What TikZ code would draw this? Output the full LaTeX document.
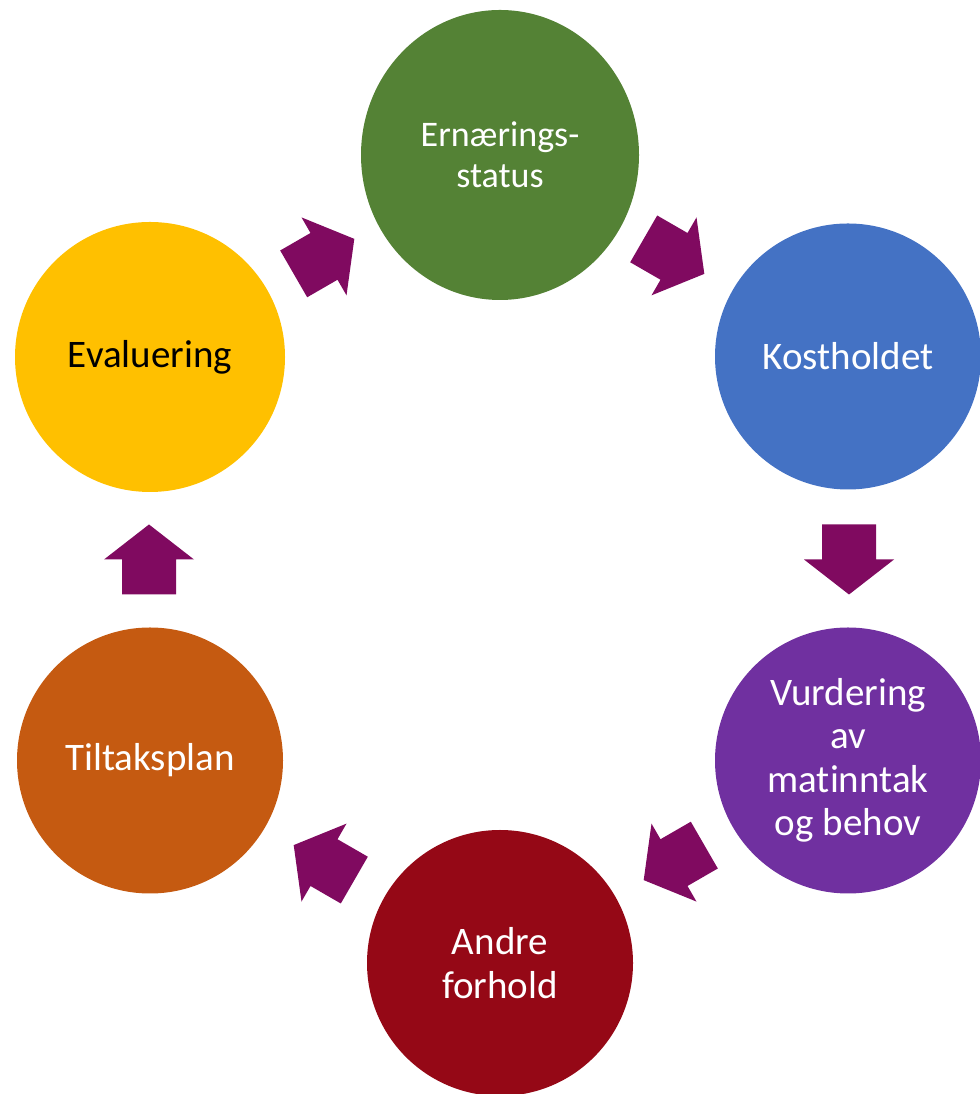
\documentclass[tikz,border=0pt]{standalone}
\usepackage{fontspec}
\setmainfont{Carlito}[Ligatures=NoCommon]
\usetikzlibrary{shapes.geometric}
\definecolor{cgreen}{HTML}{548235}
\definecolor{cblue}{HTML}{4472C4}
\definecolor{cpurple}{HTML}{7030A0}
\definecolor{cred}{HTML}{950816}
\definecolor{corange}{HTML}{C55A11}
\definecolor{cyellow}{HTML}{FFC000}
\definecolor{carrow}{HTML}{800A60}
\begin{document}
\begin{tikzpicture}[x=1pt,y=1pt,
  stage/.style={circle, inner sep=0pt, minimum size=266pt, text=white, align=center,
    font=\fontsize{39}{43.4}\selectfont},
  blockarrow/.style={fill=carrow, draw=none}]
\useasboundingbox (0,0) rectangle (979,1094);
\coordinate (c) at (499,534.5);
\node[ellipse, fill=cgreen, minimum width=278pt, minimum height=290pt, inner sep=0pt,
  text=white, align=center, font=\fontsize{36}{40.7}\selectfont] (ern) at (500,939) {Ernærings-\\status};
\node[stage, fill=cblue] (kost) at (848,737.5) {Kostholdet};
\node[stage, fill=cpurple] (vurd) at (848,333.5) {Vurdering\\av\\matinntak\\og behov};
\node[stage, fill=cred] (andre) at (500,131) {Andre\\forhold};
\node[stage, fill=corange] (tilt) at (150,333.5) {Tiltaksplan};
\node[stage, fill=cyellow, minimum size=270pt, text=black] (eval) at (150,737) {Evaluering};
\foreach \a in {0,60,...,300}{
  \begin{scope}[shift={(c)}, rotate=\a]
    \fill[blockarrow] (323,35) -- (323,0) -- (305,0) -- (350,-35) -- (395,0) -- (377,0) -- (377,35) -- cycle;
  \end{scope}
}
\end{tikzpicture}
\end{document}
